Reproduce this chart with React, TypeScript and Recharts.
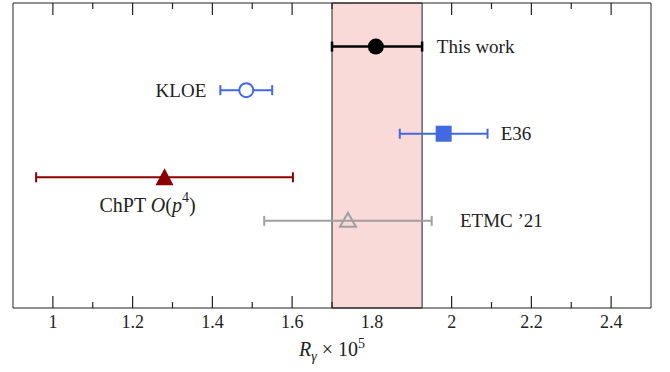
import { ScatterChart, Scatter, XAxis, YAxis, ErrorBar, ReferenceArea, ReferenceLine, Label } from "recharts";

// measurements, top to bottom
const names = ["This work", "KLOE", "E36", "ChPT", "ETMC ’21"];
const centers = [1.81, 1.485, 1.98, 1.28, 1.74];
const lowErr = [0.11, 0.065, 0.11, 0.322, 0.21];
const highErr = [0.116, 0.065, 0.11, 0.322, 0.21];
const rows = [6, 5, 4, 3, 2];

// shaded band (this work)
const bandLow = 1.7;
const bandHigh = 1.926;

const xTicks = [1, 1.1, 1.2, 1.3, 1.4, 1.5, 1.6, 1.7, 1.8, 1.9, 2, 2.1, 2.2, 2.3, 2.4];

const FONT = "Liberation Serif, DejaVu Serif, serif";
const TEXT = "#222";
const textStyle = { fontFamily: FONT };
const Y_MAX = 7;

const styles = [
  { color: "#000000", marker: "dot", bar: 2.5, dx: 61, dy: 0, anchor: "start" },
  { color: "#4169E1", marker: "ring", bar: 2, dx: -40, dy: 0, anchor: "end" },
  { color: "#4169E1", marker: "square", bar: 2, dx: 57, dy: 0, anchor: "start" },
  { color: "#8B0000", marker: "tri", bar: 2, dx: -17, dy: 28, anchor: "middle" },
  { color: "#A0A0A0", marker: "opentri", bar: 2, dx: 112, dy: 0, anchor: "start" },
];

const isMajor = (v: number) => Math.round(v * 10) % 2 === 0;
const underBand = (v: number) => v > bandLow + 1e-6 && v < bandHigh;
const fmt = (v: number) => (Number.isInteger(v) ? String(v) : v.toFixed(1));

const BottomTick = (props: any) => {
  const { x, y, payload } = props;
  const v = payload.value;
  const major = isMajor(v);
  return (
    <g>
      {!underBand(v) && (
        <line x1={x} x2={x} y1={y} y2={y - (major ? 12 : 6)} stroke={TEXT} strokeWidth={1.2} />
      )}
      {major && (
        <text x={x} y={y + 20} textAnchor="middle" style={textStyle} fontSize={18} fill={TEXT}>
          {fmt(v)}
        </text>
      )}
    </g>
  );
};

const makeShape = (i: number) => (props: any) => {
  const { cx, cy } = props;
  const s = styles[i];
  let mark = null;
  if (s.marker === "dot") mark = <circle cx={cx} cy={cy} r={8} fill={s.color} />;
  if (s.marker === "ring") mark = <circle cx={cx} cy={cy} r={7} fill="white" stroke={s.color} strokeWidth={2} />;
  if (s.marker === "square") mark = <rect x={cx - 8} y={cy - 8} width={16} height={16} fill={s.color} />;
  if (s.marker === "tri")
    mark = <polygon points={`${cx},${cy - 9} ${cx - 9},${cy + 8} ${cx + 9},${cy + 8}`} fill={s.color} />;
  if (s.marker === "opentri")
    mark = (
      <polygon
        points={`${cx},${cy - 8} ${cx - 8},${cy + 6} ${cx + 8},${cy + 6}`}
        fill="none"
        stroke={s.color}
        strokeWidth={2}
      />
    );
  return (
    <g>
      {mark}
      {i === 3 ? (
        <text x={cx + s.dx} y={cy + s.dy} textAnchor="middle" dominantBaseline="central" style={textStyle} fontSize={20} fill={TEXT}>
          ChPT <tspan fontStyle="italic">O</tspan>(<tspan fontStyle="italic">p</tspan>
          <tspan dy={-8} fontSize={14}>4</tspan>
          <tspan dy={8}>)</tspan>
        </text>
      ) : (
        <text
          x={cx + s.dx}
          y={cy + s.dy}
          textAnchor={s.anchor as any}
          dominantBaseline="central"
          style={textStyle}
          fontSize={19}
          fill={TEXT}
        >
          {names[i]}
        </text>
      )}
    </g>
  );
};

const AxisTitle = (props: any) => {
  const { x, width, y } = props.viewBox;
  return (
    <text x={x + width / 2} y={y + 48} textAnchor="middle" style={textStyle} fontSize={20} fill={TEXT}>
      <tspan fontStyle="italic">R</tspan>
      <tspan fontStyle="italic" fontSize={14} dy={5}>γ</tspan>
      <tspan dy={-5}> × 10</tspan>
      <tspan fontSize={14} dy={-8}>5</tspan>
    </text>
  );
};

const series = names.map((name, i) => ({
  name,
  data: [{ x: centers[i], y: rows[i], err: [lowErr[i], highErr[i]] }],
}));

export default function App() {
  return (
    <div style={{ position: "absolute", left: 0, top: 0, background: "white" }}>
      <ScatterChart width={670} height={372} margin={{ top: 2, right: 18, left: 12, bottom: 12 }}>
        <XAxis
          dataKey="x"
          type="number"
          domain={[0.9, 2.5]}
          ticks={xTicks}
          interval={0}
          tickSize={0}
          tickMargin={0}
          tickLine={false}
          tick={<BottomTick />}
          height={52}
          stroke={TEXT}
          allowDataOverflow
        >
          <Label content={<AxisTitle />} />
        </XAxis>
        <XAxis
          xAxisId="top"
          orientation="top"
          type="number"
          domain={[0.9, 2.5]}
          tick={false}
          tickLine={false}
          height={1}
          stroke={TEXT}
        />
        <YAxis dataKey="y" type="number" domain={[0, Y_MAX]} width={1} tick={false} tickLine={false} stroke={TEXT} />
        <YAxis yAxisId="right" orientation="right" type="number" domain={[0, Y_MAX]} width={1} tick={false} tickLine={false} stroke={TEXT} />
        <ReferenceArea x1={bandLow} x2={bandHigh} fill="#FAD9D9" fillOpacity={1} stroke="#222" strokeWidth={1} />
        {/* inward ticks along the top edge */}
        {xTicks
          .filter((v) => !underBand(v))
          .map((v) => (
            <ReferenceLine
              key={`top-${v}`}
              segment={[
                { x: v, y: Y_MAX },
                { x: v, y: Y_MAX - (isMajor(v) ? 0.275 : 0.14) },
              ]}
              stroke={TEXT}
              strokeWidth={1.2}
              ifOverflow="extendDomain"
            />
          ))}
        {series.map((s, i) => (
          <Scatter key={s.name} name={s.name} data={s.data} isAnimationActive={false} shape={makeShape(i)}>
            <ErrorBar dataKey="err" direction="x" width={5} stroke={styles[i].color} strokeWidth={styles[i].bar} />
          </Scatter>
        ))}
      </ScatterChart>
    </div>
  );
}
